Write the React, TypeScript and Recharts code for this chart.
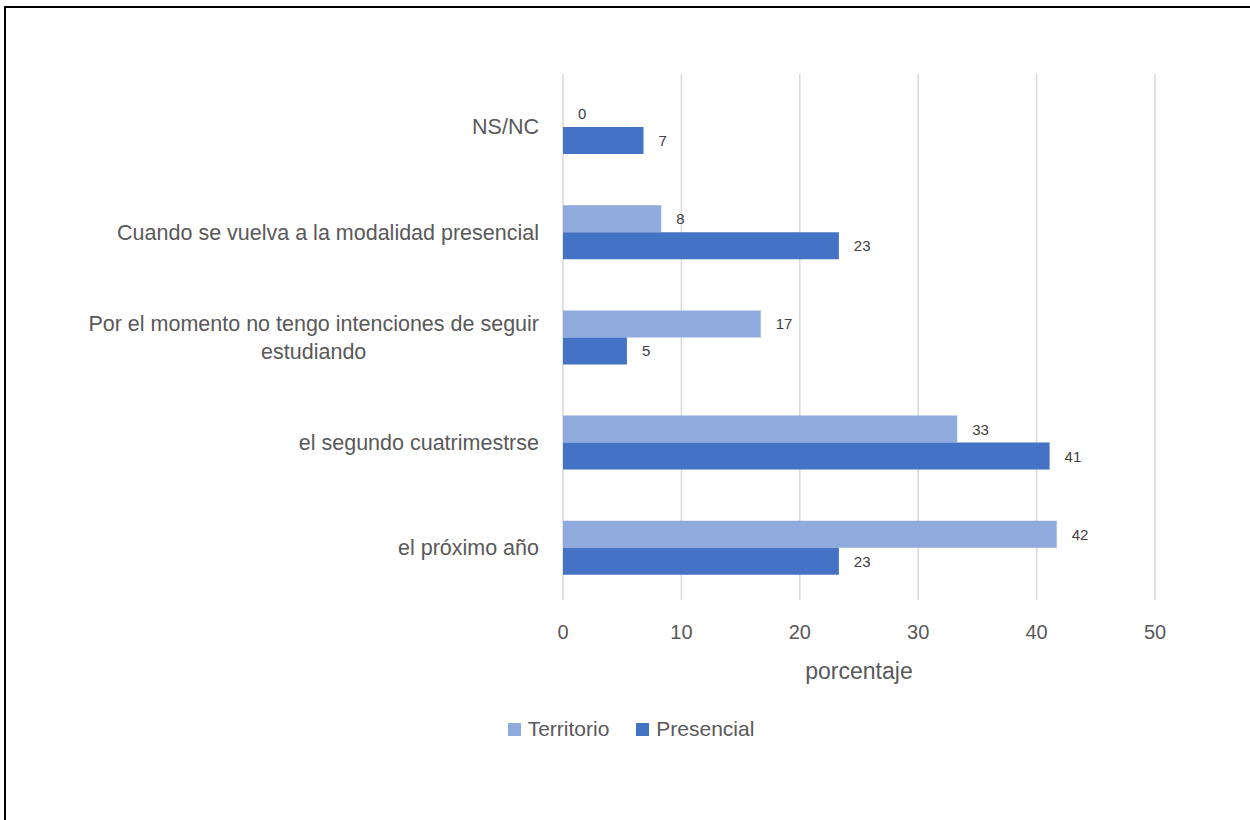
import React from 'react';
import { BarChart, Bar, XAxis, YAxis, CartesianGrid, LabelList } from 'recharts';

const categories = [
  'NS/NC',
  'Cuando se vuelva a la modalidad presencial',
  'Por el momento no tengo intenciones de seguir estudiando',
  'el segundo cuatrimestrse',
  'el próximo año',
];
const territorio = [0, 8.3, 16.7, 33.3, 41.7];
const presencial = [6.8, 23.3, 5.4, 41.1, 23.3];
const xTicks = [0, 10, 20, 30, 40, 50];

const FONT = '"Liberation Sans", Arial, sans-serif';
const TEXT = '#595959';
const LIGHT = '#8FAADC';
const DARK = '#4472C4';
const CAT_SIZE = 21.5;

const chartData = categories.map((name, i) => ({
  name,
  territorio: territorio[i],
  presencial: presencial[i],
}));

let measureCtx: CanvasRenderingContext2D | null = null;
const measure = (s: string, size: number) => {
  if (!measureCtx) measureCtx = document.createElement('canvas').getContext('2d');
  if (!measureCtx) return s.length * size * 0.5;
  measureCtx.font = `${size}px "Liberation Sans"`;
  return measureCtx.measureText(s).width;
};

const wrapLabel = (s: string, max: number) => {
  const words = s.split(' ');
  const lines: string[] = [];
  let cur = '';
  words.forEach((w) => {
    const next = cur ? cur + ' ' + w : w;
    if (next.length > max && cur) {
      lines.push(cur);
      cur = w;
    } else cur = next;
  });
  if (cur) lines.push(cur);
  return lines;
};

const CategoryTick = (props: any) => {
  const { x, y, payload } = props;
  const lines = wrapLabel(payload.value, 45);
  if (lines.length === 1) {
    return (
      <text x={x} y={y} dy="0.36em" textAnchor="end" fill={TEXT} fontSize={CAT_SIZE} fontFamily={FONT}>
        {payload.value}
      </text>
    );
  }
  const widest = Math.max(...lines.map((l) => measure(l, CAT_SIZE)));
  const cx = x - widest / 2;
  return (
    <g>
      {lines.map((l, i) => (
        <text
          key={i}
          x={cx}
          y={y + (i - (lines.length - 1) / 2) * 28}
          dy="0.36em"
          textAnchor="middle"
          fill={TEXT}
          fontSize={CAT_SIZE}
          fontFamily={FONT}
        >
          {l}
        </text>
      ))}
    </g>
  );
};

const valueText = (x: number, y: number, v: number, key?: string) => (
  <text
    key={key}
    x={x}
    y={y}
    dy="0.36em"
    textAnchor="start"
    fill="#404040"
    fontSize={15}
    fontFamily={FONT}
  >
    {Math.round(v)}
  </text>
);

const TerritorioLabel = (props: any) => {
  const { x, y, width, height, value } = props;
  return valueText(Number(x) + Number(width || 0) + 15, Number(y) + Number(height) / 2, Number(value));
};

// recharts drops the label of a zero-length bar, so the Presencial label also
// writes the Territorio "0" in the slot just above it
const PresencialLabel = (props: any) => {
  const { x, y, width, height, value, index } = props;
  const row = chartData[index];
  const h = Number(height);
  return (
    <g>
      {valueText(Number(x) + Number(width || 0) + 15, Number(y) + h / 2, Number(value), 'p')}
      {row && row.territorio === 0 ? valueText(Number(x) + 15, Number(y) - h / 2, 0, 't') : null}
    </g>
  );
};

const AxisTitle = (props: any) => {
  const { viewBox } = props;
  return (
    <text
      x={viewBox.x + viewBox.width / 2}
      y={viewBox.y + 79}
      textAnchor="middle"
      fill={TEXT}
      fontSize={23}
      fontFamily={FONT}
    >
      porcentaje
    </text>
  );
};

const legendItems = [
  { label: 'Territorio', color: LIGHT },
  { label: 'Presencial', color: DARK },
];

export default function App() {
  return (
    <div
      style={{
        position: 'absolute',
        left: 0,
        top: 0,
        width: 1250,
        height: 820,
        overflow: 'hidden',
        background: '#fff',
        fontFamily: FONT,
      }}
    >
      <div
        style={{
          position: 'absolute',
          left: 4,
          top: 6,
          width: 1400,
          height: 1000,
          borderTop: '2px solid #000',
          borderLeft: '2px solid #000',
        }}
      />
      <div style={{ position: 'absolute', left: 0, top: 0 }}>
        <BarChart
          width={1250}
          height={820}
          data={chartData}
          layout="vertical"
          margin={{ top: 74, right: 95, left: 0, bottom: 130 }}
          barSize={27}
          barGap={0}
        >
          <CartesianGrid stroke="#d9d9d9" strokeWidth={1.5} horizontal={false} />
          <XAxis
            type="number"
            domain={[0, 50]}
            ticks={xTicks}
            axisLine={false}
            tickLine={false}
            tickMargin={19}
            height={90}
            tick={{ fill: TEXT, fontSize: 20, fontFamily: FONT }}
            label={{ content: AxisTitle }}
          />
          <YAxis
            type="category"
            dataKey="name"
            width={563}
            axisLine={false}
            tickLine={false}
            tickMargin={18}
            interval={0}
            tick={<CategoryTick />}
          />
          <Bar dataKey="territorio" fill={LIGHT} isAnimationActive={false}>
            <LabelList dataKey="territorio" content={TerritorioLabel} />
          </Bar>
          <Bar dataKey="presencial" fill={DARK} isAnimationActive={false}>
            <LabelList dataKey="presencial" content={PresencialLabel} />
          </Bar>
        </BarChart>
      </div>
      <div
        style={{
          position: 'absolute',
          top: 717,
          left: 0,
          width: 1262,
          display: 'flex',
          justifyContent: 'center',
          alignItems: 'center',
          gap: 27,
          color: TEXT,
          fontSize: 21,
          lineHeight: '24px',
        }}
      >
        {legendItems.map((it) => (
          <div key={it.label} style={{ display: 'flex', alignItems: 'center' }}>
            <span
              style={{ display: 'inline-block', width: 13, height: 13, background: it.color, marginRight: 7 }}
            />
            <span>{it.label}</span>
          </div>
        ))}
      </div>
    </div>
  );
}
